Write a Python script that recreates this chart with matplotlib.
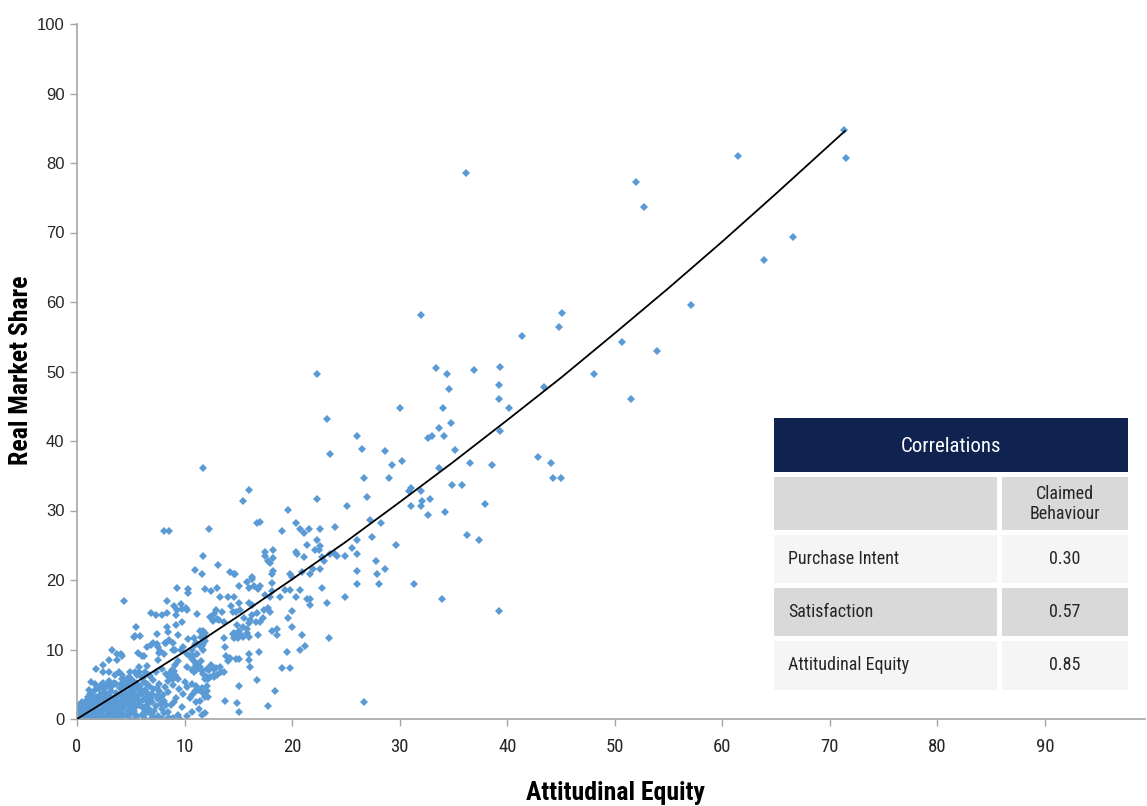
import matplotlib
matplotlib.use("Agg")
import matplotlib.pyplot as plt
from matplotlib import font_manager
from matplotlib.patches import Rectangle

# scatter data (attitudinal equity, real market share)
eq_outer = [36.2, 52.0, 52.7, 61.5, 71.3, 71.5, 66.6, 63.9, 57.1, 53.9,
            50.7, 51.5, 48.1, 45.1, 44.8, 41.4, 43.4, 39.3, 39.2, 39.2,
            36.9, 34.4, 33.4, 34.6, 32.0, 22.3, 23.2, 23.5, 26.0, 26.5,
            28.6, 29.3, 30.2, 30.0, 26.7, 29.0, 27.0, 25.1, 22.3, 24.0,
            30.9, 31.1, 31.1, 32.0, 32.1, 32.0, 32.8, 32.6, 34.2, 32.6,
            33.0, 33.7, 34.1, 34.0, 34.8, 33.7, 35.1, 34.9, 35.8, 36.5,
            37.9, 38.6, 36.3, 37.4, 39.3, 40.2, 42.9, 44.1, 44.3, 45.0,
            31.3, 33.9, 39.2, 26.7]
ms_outer = [78.5, 77.2, 73.6, 81.0, 84.7, 80.7, 69.3, 66.0, 59.5, 52.9,
            54.3, 46.1, 49.6, 58.4, 56.4, 55.1, 47.7, 50.7, 48.0, 46.1,
            50.2, 49.6, 50.5, 47.5, 58.1, 49.7, 43.1, 38.2, 40.7, 38.8,
            38.5, 36.6, 37.1, 44.7, 34.7, 34.7, 31.9, 30.6, 31.7, 27.6,
            32.8, 33.3, 30.6, 32.8, 31.4, 30.6, 31.7, 29.3, 29.8, 40.4,
            40.7, 41.8, 40.7, 44.7, 42.6, 36.1, 38.7, 33.6, 33.6, 36.9,
            30.9, 36.6, 26.5, 25.7, 41.5, 44.7, 37.7, 36.9, 34.7, 34.7,
            19.4, 17.3, 15.6, 2.5]

eq_mid = [19.6, 19.1, 20.4, 20.7, 21.1, 21.6, 22.6, 21.4, 22.3, 22.1,
          22.5, 22.6, 20.4, 20.5, 21.1, 22.8, 23.0, 23.5, 24.0, 24.2,
          24.9, 25.6, 26.0, 26.0, 27.2, 27.4, 28.3, 29.7, 27.8, 27.9,
          28.1, 28.6, 26.0, 26.0, 24.9, 22.8, 23.2, 23.4, 20.9, 20.0,
          19.6, 20.0, 20.4, 21.4, 21.7, 21.7, 18.9, 19.3, 19.8, 20.7,
          19.8, 20.0, 20.9, 21.7, 21.9, 22.6, 19.5, 20.7, 21.2, 19.1,
          19.8]
ms_mid = [30.1, 27.0, 28.2, 27.3, 26.8, 27.3, 27.3, 25.1, 25.7, 24.3,
          24.3, 24.9, 24.1, 23.8, 23.3, 23.3, 22.7, 23.8, 23.8, 23.5,
          23.5, 24.6, 25.7, 23.8, 28.7, 26.2, 28.2, 25.1, 22.7, 20.8,
          19.4, 21.6, 21.3, 19.4, 17.6, 18.9, 16.7, 11.6, 12.1, 13.2,
          14.5, 15.6, 17.6, 17.3, 17.3, 16.4, 17.6, 18.6, 18.6, 18.6,
          20.8, 20.5, 21.1, 20.8, 21.6, 21.6, 9.6, 9.9, 10.5, 7.4,
          7.4]

eq_ten = [11.7, 16.0, 15.4, 16.7, 17.0, 12.3, 11.7, 11.0, 11.6, 13.1,
          14.2, 14.6, 14.7, 16.3, 16.3, 17.5, 17.5, 18.2, 18.2, 17.8,
          17.9, 18.2, 18.1, 10.3, 10.3, 11.9, 12.5, 13.0, 13.3, 14.0,
          14.6, 15.1, 15.8, 16.0, 16.5, 17.0, 16.8, 18.1, 18.1, 17.5,
          17.9,
          15.1, 16.0, 16.3, 14.3, 14.5, 14.8, 13.5, 12.4, 12.7, 12.9,
          12.6, 13.0, 11.2, 15.2, 15.5, 16.3, 16.7, 17.0, 17.3, 17.4,
          16.1, 16.0, 16.6, 10.1, 10.2, 9.8, 11.4, 11.9, 11.7, 13.2,
          13.7, 15.1, 15.4, 14.9, 14.6, 14.7, 15.4, 15.8, 16.0, 18.1,
          18.6, 18.6, 17.9, 17.8]
ms_ten = [36.1, 33.0, 31.4, 28.2, 28.4, 27.3, 23.5, 21.4, 20.8, 22.2,
          21.1, 20.8, 20.8, 20.5, 20.2, 24.0, 23.5, 24.3, 23.2, 22.7,
          22.4, 21.3, 20.8, 18.7, 18.1, 18.7, 18.4, 18.9, 17.6, 17.6,
          17.6, 19.2, 19.7, 18.9, 19.2, 19.2, 18.7, 19.5, 18.4, 17.8,
          17.6,
          16.7, 16.7, 16.4, 16.2, 15.4, 15.4, 15.4, 14.7, 15.1, 15.7,
          14.1, 14.4, 15.1, 15.7, 14.5, 15.0, 15.2, 14.0, 14.6, 15.7,
          14.2, 13.8, 13.9, 15.9, 15.7, 14.0, 12.7, 12.4, 12.7, 14.2,
          14.0, 12.7, 13.2, 13.5, 12.4, 11.8, 11.8, 12.4, 11.8, 12.7,
          12.9, 12.1, 15.4, 15.9]

eq_low = [11.9, 11.5, 11.9, 11.1, 11.6, 11.7, 11.2, 10.8, 10.7, 11.0,
          11.1, 11.4, 11.1, 10.9, 11.6, 11.7, 12.1, 12.3, 12.5, 12.7,
          12.9, 13.0, 12.7, 12.4, 12.2, 12.1, 13.3, 13.4, 13.7, 13.7,
          13.8, 13.9, 14.0, 14.2, 14.5, 14.6, 14.8, 15.1, 15.0, 15.2,
          15.8, 16.0, 16.0, 16.1, 16.8, 16.9, 16.7, 18.4, 17.8, 15.1,
          15.1, 14.9, 13.8, 11.1, 11.1, 11.3, 11.6, 11.7, 12.1, 12.1,
          11.4, 11.9, 12.2, 10.7, 11.6, 12.7]
ms_low = [11.8, 11.8, 11.2, 11.0, 10.5, 9.9, 9.4, 9.1, 8.6, 8.2,
          7.9, 7.5, 7.1, 6.7, 6.9, 6.5, 7.2, 7.1, 7.7, 7.2,
          7.4, 6.3, 6.1, 6.0, 5.8, 6.1, 7.5, 6.7, 6.7, 11.6,
          10.4, 9.0, 8.3, 8.8, 12.3, 11.6, 8.7, 8.6, 11.6, 12.2,
          13.0, 9.4, 8.5, 7.5, 12.1, 9.6, 5.6, 4.0, 1.8, 4.7,
          1.0, 2.3, 2.6, 4.7, 4.0, 4.2, 4.5, 3.8, 4.7, 4.1,
          2.6, 3.1, 3.1, 3.5, 0.6, 6.4]

eq_five = [8.4, 9.0, 9.3, 6.9, 7.3, 7.9, 8.4, 9.2, 5.5, 8.4,
           9.2, 5.4, 5.9, 7.4, 8.5, 9.4, 10.3, 10.9, 7.1, 6.9,
           7.4, 6.5, 8.3, 8.9, 9.1, 5.7, 6.2, 7.6, 8.1, 9.7,
           9.9, 10.2, 10.5, 10.7, 11.0, 11.4, 11.7, 9.4, 9.1, 8.8,
           8.6, 8.9, 9.1, 9.4, 10.2, 10.7, 11.0, 11.5, 11.9, 10.7,
           10.2, 11.0, 9.9, 10.5, 11.1, 11.3, 11.9, 10.7, 10.2, 9.4,
           8.9, 8.5, 7.9, 8.1, 7.5, 7.0, 7.4, 7.6, 7.1, 6.5,
           6.7, 6.3, 6.0, 5.8, 5.4, 4.9, 4.8, 5.1, 5.5, 5.7,
           5.8, 5.1, 4.6, 4.6, 5.0, 4.8, 5.2, 5.7, 6.1, 6.5,
           6.8, 6.4, 6.0, 7.2, 7.9, 8.4, 9.3, 9.7, 9.8, 4.4,
           8.1, 8.6, 8.3, 8.7, 9.0, 8.5, 9.2]
ms_five = [17.0, 16.2, 15.7, 15.3, 14.9, 14.9, 15.2, 14.9, 13.2, 13.3,
           13.5, 11.9, 11.9, 12.2, 12.5, 12.1, 11.5, 11.7, 11.0, 10.7,
           10.8, 10.4, 10.9, 11.0, 9.9, 9.5, 9.1, 9.5, 9.4, 10.0,
           10.4, 9.4, 9.1, 9.9, 10.6, 10.5, 10.8, 8.3, 7.7, 7.0,
           6.1, 5.8, 6.3, 5.8, 7.5, 7.1, 7.5, 8.3, 5.8, 5.1,
           4.6, 4.1, 3.6, 3.0, 2.4, 1.5, 0.8, 1.0, 0.4, 0.6,
           0.1, 1.0, 1.5, 2.6, 2.9, 3.6, 4.4, 5.1, 5.6, 5.0,
           6.4, 6.8, 6.1, 6.8, 6.8, 6.8, 6.0, 5.6, 5.2, 4.6,
           4.2, 4.6, 4.6, 3.2, 2.7, 1.8, 1.3, 2.0, 2.7, 2.0,
           1.3, 0.8, 0.6, 0.2, 0.0, 0.0, 18.9, 16.6, 15.8, 17.0,
           27.0, 27.0, 6.5, 6.7, 6.9, 5.4, 6.0]

eq_small = [3.3, 3.7, 4.2, 2.4, 1.8, 2.4, 3.0, 3.5, 3.9, 4.2,
            4.2, 4.4, 1.3, 1.7, 2.4, 1.9, 2.5, 3.1, 3.4, 1.1,
            0.5, 0.2, 4.1, 3.7, 3.0, 5.8, 6.5, 6.0, 7.5, 7.7,
            8.2, 8.6, 8.9, 7.5, 5.3]
ms_small = [9.9, 9.4, 9.1, 7.7, 7.2, 6.8, 6.7, 6.4, 6.8, 6.4,
            5.8, 5.1, 5.3, 5.0, 5.2, 4.6, 4.4, 4.6, 5.2, 4.2,
            2.4, 2.0, 9.3, 8.5, 8.5, 7.5, 7.6, 9.0, 10.4, 9.8,
            11.0, 11.3, 10.0, 8.5, 11.8]

eq_dense = [0.1, 0.2, 0.3, 0.3, 0.4, 0.5, 0.6, 0.6, 0.7, 0.8,
            0.9, 0.9, 1.0, 1.1, 1.1, 1.2, 1.3, 1.3, 1.4, 1.5,
            1.5, 1.6, 1.7, 1.7, 1.8, 1.9, 1.9, 2.0, 2.1, 2.1,
            2.2, 2.3, 2.3, 2.4, 2.5, 2.5, 2.6, 2.7, 2.7, 2.8,
            2.9, 3.0, 3.0, 3.1, 3.2, 3.2, 3.3, 3.4, 3.5, 3.5,
            3.6, 3.7, 3.8, 3.9, 3.9, 4.0, 4.1, 4.2, 4.3, 4.3,
            4.4, 4.5, 4.6, 4.7, 4.7, 4.9, 5.0, 5.1, 5.2, 5.3,
            5.4, 5.5, 5.6, 5.7, 5.9, 6.0, 6.1, 6.2, 6.3, 6.4,
            6.6, 6.7, 6.8, 6.9, 7.0, 7.1, 7.3, 7.4, 7.6, 7.8,
            8.0, 8.1, 8.2, 8.5, 8.7, 8.9, 9.2, 9.5, 9.8, 10.0,
            0.2, 0.4, 0.6, 0.8, 1.0, 1.2, 1.4, 1.6, 2.0, 2.2,
            2.8, 3.0, 3.6, 4.5, 5.0, 5.6, 6.1, 6.8, 7.3, 7.9,
            0.0, 0.1, 0.0, 0.4, 1.0, 1.7, 2.6, 3.3, 4.1, 4.8,
            0.5, 1.0, 1.6, 2.2, 2.9, 3.6, 4.2, 4.9, 5.5, 6.3,
            7.0, 8.6, 9.6]
ms_dense = [0.1, 0.4, 0.0, 0.8, 0.3, 1.1, 0.5, 0.1, 1.4, 0.8,
            0.3, 1.9, 1.2, 0.6, 0.1, 2.3, 1.5, 0.9, 0.4, 2.7,
            1.9, 1.2, 0.7, 0.2, 3.1, 2.2, 1.5, 0.9, 0.4, 3.5,
            2.6, 1.8, 1.1, 0.5, 0.1, 3.9, 3.0, 2.1, 1.4, 0.7,
            3.4, 2.5, 1.7, 0.9, 0.3, 4.1, 3.0, 2.2, 1.3, 0.6,
            3.7, 2.7, 1.9, 1.0, 0.2, 4.5, 3.3, 2.4, 1.6, 0.7,
            3.9, 2.9, 2.1, 1.2, 0.4, 4.1, 3.4, 2.3, 0.9, 3.8,
            2.9, 1.9, 0.4, 3.3, 4.8, 3.6, 1.6, 5.3, 4.2, 3.0,
            2.4, 4.7, 3.5, 0.7, 2.5, 4.3, 1.9, 3.3, 4.0, 2.2,
            3.4, 0.9, 4.6, 3.9, 2.0, 4.9, 3.0, 4.3, 1.7, 5.3,
            1.5, 2.0, 1.8, 2.6, 3.2, 3.6, 3.3, 4.0, 4.3, 4.9,
            4.7, 5.5, 5.1, 5.6, 5.8, 6.3, 5.9, 6.2, 6.7, 7.2,
            0.6, 1.0, 1.4, 1.5, 2.4, 2.8, 4.4, 4.8, 5.0, 5.2,
            0.0, 0.0, 0.0, 0.0, 0.1, 0.0, 0.1, 0.0, 0.1, 0.0,
            0.1, 0.2, 0.0]

# extra points filling the solid block near the origin
eq_core = [0.2, 0.5, 0.8, 1.2, 1.5, 1.8, 2.4, 2.7, 3.1, 3.4,
           3.8, 4.0, 4.4, 4.8, 5.3, 5.8, 6.2, 6.6, 7.2, 7.7,
           0.4, 0.7, 1.1, 1.4, 1.9, 2.3, 2.8, 3.3, 3.7, 4.1,
           4.6, 5.0, 5.4, 5.9, 6.5, 7.5, 8.3, 9.0, 0.3, 0.9,
           1.3, 1.6, 2.0, 2.6, 3.5, 4.2, 4.8, 5.3, 6.0, 6.9]
ms_core = [0.6, 0.9, 0.5, 1.0, 0.8, 0.5, 2.0, 0.2, 1.3, 0.9,
           0.6, 2.0, 2.3, 0.7, 1.2, 2.6, 0.9, 1.5, 1.2, 3.0,
           0.2, 0.2, 1.8, 2.0, 0.3, 2.9, 3.0, 1.8, 3.3, 1.2,
           3.4, 1.8, 3.1, 2.0, 3.8, 0.5, 2.0, 2.5, 1.6, 2.3,
           2.9, 2.4, 3.0, 1.9, 2.7, 3.7, 2.6, 4.5, 4.1, 3.0]

# trend line
trend_x = [0, 5, 10, 15, 20, 25, 30, 35, 40, 45, 50, 55, 60, 65, 71.4]
trend_y = [0, 4.8, 9.7, 14.8, 20.1, 25.5, 31.2, 37.0, 43.0, 49.1, 55.5, 62.0, 68.7, 75.6, 84.6]

# correlation table
row_labels = ["Purchase Intent", "Satisfaction", "Attitudinal Equity"]
row_values = ["0.30", "0.57", "0.85"]

names = {f.name for f in font_manager.fontManager.ttflist}
narrow = [n for n in ["Liberation Sans Narrow", "Roboto Condensed", "DejaVu Sans"] if n in names] or ["DejaVu Sans"]
stretch = "normal" if narrow[0] != "DejaVu Sans" else "condensed"
blue = "#5b9bd5"
grey = "#a6a6a6"
ink = "#262626"

fig = plt.figure(figsize=(11.47, 8.06), dpi=100)
W, H = 1147, 806
ax = fig.add_axes([77 / W, (H - 719) / H, (1145 - 77) / W, (719 - 24) / H])

xs = eq_outer + eq_mid + eq_ten + eq_low + eq_five + eq_small + eq_dense + eq_core
ys = ms_outer + ms_mid + ms_ten + ms_low + ms_five + ms_small + ms_dense + ms_core
ax.plot(xs, ys, linestyle="none", marker="D", markersize=3.7,
        color=blue, markeredgewidth=0, zorder=2)
ax.plot(trend_x, trend_y, color="black", linewidth=1.3, zorder=3)

ax.set_xlim(0, 99.3)
ax.set_ylim(0, 100)
ax.set_xticks(range(0, 100, 10))
ax.set_yticks(range(0, 101, 10))
for s in ["top", "right"]:
    ax.spines[s].set_visible(False)
for s in ["left", "bottom"]:
    ax.spines[s].set_color(grey)
    ax.spines[s].set_linewidth(1.2)
ax.tick_params(axis="both", color=grey, width=1.0, length=5, labelcolor=ink)
ax.tick_params(axis="y", pad=4, labelsize=12)
ax.tick_params(axis="x", pad=9, labelsize=13.5)
for lab in ax.get_yticklabels():
    lab.set_family(["Liberation Sans", "DejaVu Sans"])
for lab in ax.get_xticklabels():
    lab.set_family(narrow)
    lab.set_fontstretch(stretch)

txt = dict(family=narrow, fontstretch=stretch)
fig.text(21 / W, 1 - 370 / H, "Real Market Share", rotation=90, ha="center", va="center",
         fontsize=18.5, fontweight="bold", **txt)
fig.text(615 / W, 1 - 793 / H, "Attitudinal Equity", ha="center", va="center",
         fontsize=18.5, fontweight="bold", **txt)


def box(x0, y0, x1, y1, color):
    fig.add_artist(Rectangle((x0 / W, 1 - y1 / H), (x1 - x0) / W, (y1 - y0) / H,
                             transform=fig.transFigure, facecolor=color,
                             edgecolor="none", zorder=5))


# table header
box(774, 418, 1128, 472, "#0f2250")
fig.text(951 / W, 1 - 447 / H, "Correlations", ha="center", va="center",
         color="white", fontsize=15, zorder=6, **txt)

rows = [(477, 530), (535, 583), (588, 636), (641, 690)]
fills = ["#d9d9d9", "#f5f5f5", "#d9d9d9", "#f5f5f5"]
for (y0, y1), fc in zip(rows, fills):
    box(774, y0, 997, y1, fc)
    box(1002, y0, 1128, y1, fc)

fig.text(1065 / W, 1 - 504 / H, "Claimed\nBehaviour", ha="center", va="center",
         color=ink, fontsize=13, linespacing=1.15, zorder=6, **txt)
for (y0, y1), lab, val in zip(rows[1:], row_labels, row_values):
    yc = 1 - (y0 + y1) / 2 / H
    fig.text(788 / W, yc, lab, ha="left", va="center", color=ink,
             fontsize=13, zorder=6, **txt)
    fig.text(1065 / W, yc, val, ha="center", va="center", color=ink,
             fontsize=13, zorder=6, **txt)

fig.savefig("out.png", dpi=100)
